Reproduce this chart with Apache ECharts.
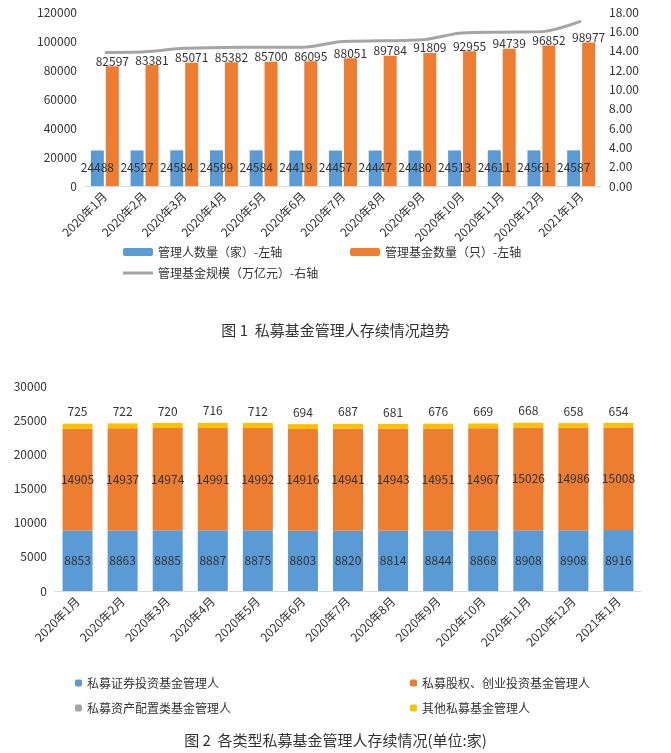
<!DOCTYPE html>
<html><head><meta charset="utf-8">
<script src="https://cdn.jsdelivr.net/npm/echarts@6/dist/echarts.min.js"></script>
<style>html,body{margin:0;background:#fff}#c{width:671px;height:753px}</style>
</head><body><div id="c"></div>
<script>
var months = ['2020年1月','2020年2月','2020年3月','2020年4月','2020年5月','2020年6月','2020年7月','2020年8月','2020年9月','2020年10月','2020年11月','2020年12月','2021年1月'];
var managers = [24488,24527,24584,24599,24584,24419,24457,24447,24480,24513,24611,24561,24587];
var funds = [82597,83381,85071,85382,85700,86095,88051,89784,91809,92955,94739,96852,98977];
var scale = [13.82,13.89,14.25,14.34,14.35,14.35,14.96,15.02,15.12,15.84,15.91,15.97,17.06];
var securities = [8853,8863,8885,8887,8875,8803,8820,8814,8844,8868,8908,8908,8916];
var equity = [14905,14937,14974,14991,14992,14916,14941,14943,14951,14967,15026,14986,15008];
var allocation = [5,5,5,5,5,6,9,9,9,9,9,9,9];
var others = [725,722,720,716,712,694,687,681,676,669,668,658,654];

var font = 'Noto Sans CJK SC';
var lab = {color:'#333', fontSize:12, fontFamily:font};
var plain = {color:'#333', fontSize:12, fontFamily:font, formatter:function(v){return String(v);}};
function lg(top, left, names, w, h){
  return {top:top, left:left, itemWidth:w, itemHeight:h, textStyle:lab, data:names};
}
var chart = echarts.init(document.getElementById('c'));
chart.setOption({
  animation:false,
  textStyle:{fontFamily:font},
  title:[
    {text:'图 1  私募基金管理人存续情况趋势', left:'center', top:318, textStyle:{fontSize:15, fontWeight:'normal', color:'#333', fontFamily:font}},
    {text:'图 2  各类型私募基金管理人存续情况(单位:家)', left:'center', top:728, textStyle:{fontSize:15, fontWeight:'normal', color:'#333', fontFamily:font}}
  ],
  legend:[
    lg(241, 118, ['管理人数量（家）-左轴'], 30, 8),
    lg(241, 345, ['管理基金数量（只）-左轴'], 30, 8),
    Object.assign(lg(262, 118, [{name:'管理基金规模（万亿元）-右轴', icon:'rect'}], 30, 3)),
    lg(672, 70, ['私募证券投资基金管理人'], 7, 7),
    lg(672, 405, ['私募股权、创业投资基金管理人'], 7, 7),
    lg(697, 70, ['私募资产配置类基金管理人'], 7, 7),
    lg(697, 405, ['其他私募基金管理人'], 7, 7)
  ],
  grid:[
    {left:85, right:70, top:12, height:174},
    {left:55, right:30, top:386, height:205}
  ],
  xAxis:[
    {type:'category', gridIndex:0, data:months, axisTick:{show:false}, axisLine:{lineStyle:{color:'#d9d9d9'}},
     axisLabel:{rotate:45, interval:0, color:'#333', fontSize:12, fontFamily:font}},
    {type:'category', gridIndex:1, data:months, axisTick:{show:false}, axisLine:{lineStyle:{color:'#d9d9d9'}},
     axisLabel:{rotate:45, interval:0, color:'#333', fontSize:12, fontFamily:font}}
  ],
  yAxis:[
    {type:'value', gridIndex:0, min:0, max:120000, interval:20000, splitLine:{show:false}, axisLabel:plain},
    {type:'value', gridIndex:0, min:0, max:18, interval:2, position:'right', splitLine:{show:false},
     axisLabel:{color:'#333', fontSize:12, fontFamily:font, formatter:function(v){return v.toFixed(2);}}},
    {type:'value', gridIndex:1, min:0, max:30000, interval:5000, splitLine:{show:false}, axisLabel:plain}
  ],
  series:[
    {name:'管理人数量（家）-左轴', type:'bar', xAxisIndex:0, yAxisIndex:0, data:managers, barWidth:13, barGap:'15%',
     itemStyle:{color:'#5b9bd5'}, label:{show:true, position:'insideTop', offset:[0,6], color:'#333', fontSize:12}},
    {name:'管理基金数量（只）-左轴', type:'bar', xAxisIndex:0, yAxisIndex:0, data:funds, barWidth:13,
     itemStyle:{color:'#ed7d31'}, label:{show:true, position:'top', offset:[0,6], color:'#333', fontSize:12}},
    {name:'管理基金规模（万亿元）-右轴', type:'line', xAxisIndex:0, yAxisIndex:1, data:scale, symbol:'none', smooth:0.3,
     lineStyle:{color:'#a5a5a5', width:3}, itemStyle:{color:'#a5a5a5'},
     label:{show:true, position:'top', distance:6, color:'#333', fontSize:12, formatter:function(p){return p.value.toFixed(2);}}},
    {name:'私募证券投资基金管理人', type:'bar', stack:'t', xAxisIndex:1, yAxisIndex:2, data:securities, barWidth:30,
     itemStyle:{color:'#5b9bd5'}, label:{show:true, position:'inside', color:'#333', fontSize:12}},
    {name:'私募股权、创业投资基金管理人', type:'bar', stack:'t', xAxisIndex:1, yAxisIndex:2, data:equity, barWidth:30,
     itemStyle:{color:'#ed7d31'}, label:{show:true, position:'inside', color:'#333', fontSize:12}},
    {name:'私募资产配置类基金管理人', type:'bar', stack:'t', xAxisIndex:1, yAxisIndex:2, data:allocation, barWidth:30,
     itemStyle:{color:'#a5a5a5'}},
    {name:'其他私募基金管理人', type:'bar', stack:'t', xAxisIndex:1, yAxisIndex:2, data:others, barWidth:30,
     itemStyle:{color:'#ffc000'}, label:{show:true, position:'top', distance:6, color:'#333', fontSize:12}}
  ]
});
</script></body></html>
